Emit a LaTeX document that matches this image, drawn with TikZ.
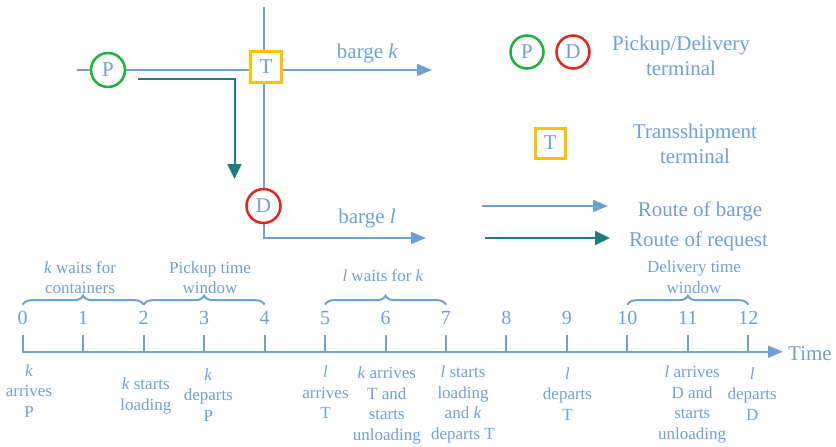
\documentclass[tikz,border=0pt]{standalone}
\usepackage{fontspec}
\setmainfont{Liberation Serif}
\usetikzlibrary{arrows.meta,decorations.pathreplacing,calc}
\definecolor{lb}{RGB}{110,160,213}
\definecolor{teal2}{RGB}{31,126,120}
\definecolor{pgreen}{RGB}{30,178,60}
\definecolor{dred}{RGB}{222,40,30}
\definecolor{tyel}{RGB}{255,192,0}
\begin{document}
\begin{tikzpicture}[x=1pt,y=-1pt,
  big/.style={font=\fontsize{21}{25}\selectfont, text=lb, inner sep=0pt},
  num/.style={font=\fontsize{20}{22}\selectfont, text=lb, inner sep=0pt},
  small/.style={font=\fontsize{17}{20.5}\selectfont, text=lb, align=center, inner sep=0pt},
  route/.style={draw=lb, line width=2pt},
  req/.style={draw=teal2, line width=2pt},
  barrow/.style={-{Triangle[length=15pt,width=12pt]}},
  rarrow/.style={-{Triangle[length=15pt,width=14pt]}},
  pnode/.style={circle, draw=pgreen, line width=2.5pt, minimum size=34pt, inner sep=0pt, font=\fontsize{21}{25}\selectfont, text=lb},
  dnode/.style={circle, draw=dred, line width=2.5pt, minimum size=34pt, inner sep=0pt, font=\fontsize{21}{25}\selectfont, text=lb},
  tnode/.style={rectangle, draw=tyel, line width=3pt, minimum size=31pt, inner sep=0pt, font=\fontsize{21}{25}\selectfont, text=lb},
  tbrace/.style={draw=lb, line width=2pt, decorate, decoration={brace, amplitude=9pt}},
  annot/.style={small, anchor=north}
]
\useasboundingbox (0,0) rectangle (836,447);

% ---------- network ----------
\node[pnode] (P) at (108,70) {P};
\node[tnode] (T) at (266,66.5) {T};
\node[dnode] (D) at (263.5,206) {D};
\coordinate (vtop) at (263.5,7);
\coordinate (hleft) at (77,70);
\coordinate (kend) at (432,70);
\coordinate (lcorner) at (263.5,238);
\coordinate (lend) at (426,238);
\draw[route] (hleft) -- (P.west);
\draw[route] (P.east) -- (P.east -| T.west);
\draw[route, barrow] (T.east |- kend) -- (kend);
\draw[route] (vtop) -- (vtop |- T.north);
\draw[route] (vtop |- T.south) -- (D.north);
\draw[route, barrow] (D.south) -- (lcorner) -- (lend);
\coordinate (rq1) at (138,79);
\coordinate (rq2) at (234.5,79);
\coordinate (rqend) at (234.5,179);
\draw[req, rarrow] (rq1) -- (rq2) -- (rqend);
\node[big] (bk) at (367.5,53) {barge \textit{k}};
\node[big] (bl) at (367,218) {barge \textit{l}};

% ---------- legend ----------
\node[pnode, minimum size=33pt] (LP) at (527,52) {P};
\node[dnode, minimum size=33pt] (LD) at (573,52) {D};
\node[big, align=center] (pdlab) at (681,55.5) {Pickup/Delivery\\terminal};
\node[tnode, minimum size=30pt] (LT) at (550,143) {T};
\node[big, align=center] (tlab) at (695,143.5) {Transshipment\\terminal};
\coordinate (lb1) at (482,206);
\coordinate (lb2) at (608,206);
\draw[route, barrow] (lb1) -- (lb2);
\node[big] (rb) at (700,211) {Route of barge};
\coordinate (lr1) at (485,238);
\coordinate (lr2) at (610,238);
\draw[req, rarrow] (lr1) -- (lr2);
\node[big] (rr) at (698.5,241.5) {Route of request};

% ---------- timeline ----------
\coordinate (t0top) at (22.7,335);
\coordinate (ax0) at (22.7,351.7);
\coordinate (axend) at (783,351.7);
\draw[route, barrow] (t0top) -- (ax0) -- (axend);
\node[big, anchor=west] (time) at (788,353.3) {Time};
\foreach \i in {0,...,12} {
  \coordinate (tk\i) at ({22.7+60.47*\i},351.7);
  \node[num] (n\i) at ({22.7+60.47*\i},318) {\i};
}
\foreach \i in {1,...,12} {
  \draw[route] (tk\i) -- ++(0,-17);
}
\draw[tbrace] ($(tk0)+(0,-47)$) -- ($(tk2)+(0,-47)$);
\draw[tbrace] ($(tk2)+(0,-47)$) -- ($(tk4)+(0,-47)$);
\draw[tbrace] ($(tk5)+(0,-47)$) -- ($(tk7)+(0,-47)$);
\draw[tbrace] ($(tk10)+(0,-47)$) -- ($(tk12)+(0,-47)$);
\node[small] (b1) at (80,277.5) {\textit{k} waits for\\containers};
\node[small] (b2) at (210,277.5) {Pickup time\\window};
\node[small] (b3) at (383,276) {\textit{l} waits for \textit{k}};
\node[small] (b4) at (694,277) {Delivery time\\window};

\node[annot] (a0) at (29,364.5) {\textit{k}\\arrives\\P};
\node[annot] (a2) at (145.8,377.7) {\textit{k} starts\\loading};
\node[annot] (a3) at (208.3,368.4) {\textit{k}\\departs\\P};
\node[annot] (a5) at (325.5,366) {\textit{l}\\arrives\\T};
\node[annot] (a6) at (386.8,366.7) {\textit{k} arrives\\T and\\starts\\unloading};
\node[annot] (a7) at (463,366) {\textit{l} starts\\loading\\and \textit{k}\\departs T};
\node[annot] (a9) at (567.5,367.5) {\textit{l}\\departs\\T};
\node[annot] (a11) at (692.2,366) {\textit{l} arrives\\D and\\starts\\unloading};
\node[annot] (a12) at (752.2,367.5) {\textit{l}\\departs\\D};
\end{tikzpicture}
\end{document}
